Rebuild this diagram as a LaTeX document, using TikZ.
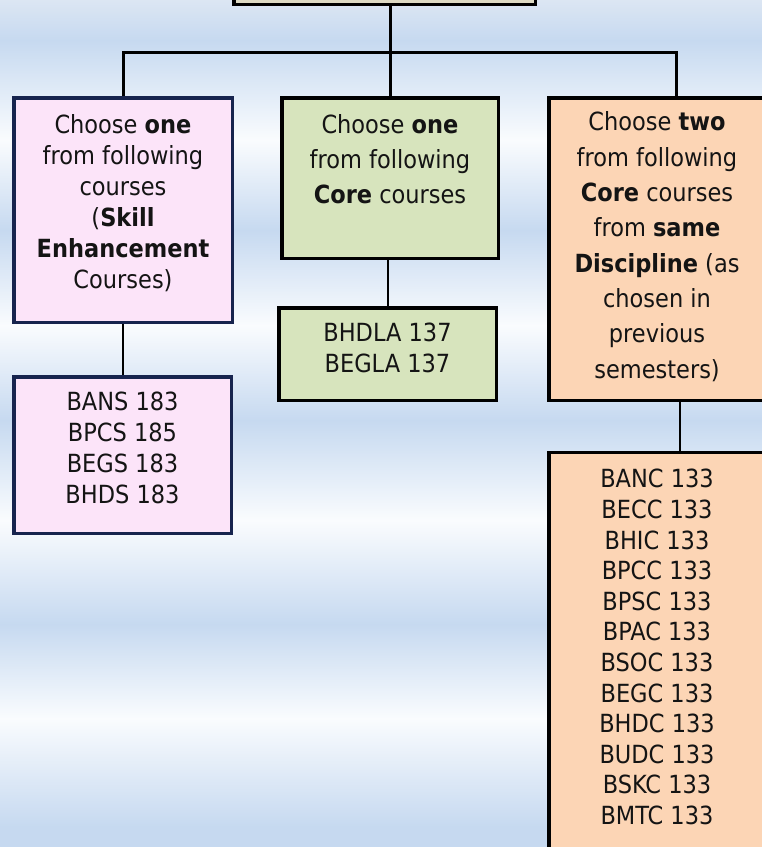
\documentclass[tikz,border=0pt]{standalone}
\usepackage{fontspec}
\setmainfont{DejaVu Sans Condensed}
\usepackage{xcolor}
\usepackage{tikz}
\usetikzlibrary{positioning, calc}
\definecolor{sem-pink}{HTML}{FCE4F9}
\definecolor{sem-navy}{HTML}{17244E}
\definecolor{sem-green}{HTML}{D7E4BD}
\definecolor{sem-peach}{HTML}{FCD5B5}
\definecolor{sem-tan}{HTML}{DDD9C3}
\definecolor{sem-ink}{HTML}{141414}
\definecolor{sky-blue}{HTML}{C6D9F0}
\definecolor{sky-white}{HTML}{FAFCFE}
\definecolor{sky-mid}{HTML}{DCE6F3}
\newcommand{\lowpad}[1]{\rule[-#1]{0pt}{#1}}

\begin{document}
\begin{tikzpicture}[x=1pt, y=-1pt,
    box/.style={draw, line width=3.5pt, align=center, inner sep=0pt, text=sem-ink},
    skill/.style={box, draw=sem-navy, fill=sem-pink},
    core/.style={box, fill=sem-green},
    disc/.style={box, fill=sem-peach},
    trunk/.style={line width=3pt, black},
    twig/.style={line width=2pt, black}]
    \useasboundingbox (0,0) rectangle (762,847);

    % Sky background bands
    \foreach \ya/\yb/\ca/\cb in {0/40/sky-mid/sky-blue, 40/140/sky-blue/sky-white,
        140/230/sky-white/sky-blue, 230/325/sky-blue/sky-white, 325/420/sky-white/sky-blue,
        420/520/sky-blue/sky-white, 520/624/sky-white/sky-blue, 624/718/sky-blue/sky-white,
        718/826/sky-white/sky-blue, 826/847/sky-blue/sky-blue} {
        \shade[top color=\ca, bottom color=\cb] (0,\ya) rectangle (762,\yb+1);
    }

    % Semester box (cut off at the top)
    \node[box, fill=sem-tan, minimum width=301.5pt, minimum height=60pt, anchor=south] (head) at (384.5,6.25) {};

    % First-level choices
    \node[skill, minimum width=218.5pt, minimum height=224.5pt, font=\fontsize{25}{31}\selectfont] (ske) at (123,210)
        {Choose \textbf{one}\\from following\\courses\\(\textbf{Skill}\\\textbf{Enhancement}\\Courses)\lowpad{17pt}};
    \node[core, minimum width=216.5pt, minimum height=160.5pt, font=\fontsize{25}{35}\selectfont] (core) at (390,178)
        {Choose \textbf{one}\\from following\\\textbf{Core} courses\lowpad{39pt}};
    \node[disc, minimum width=216.5pt, minimum height=302.5pt, font=\fontsize{25}{35.3}\selectfont] (dsc) at (657,249)
        {Choose \textbf{two}\\from following\\\textbf{Core} courses\\from \textbf{same}\\\textbf{Discipline} (as\\chosen in\\previous\\semesters)\lowpad{8pt}};

    % Course lists
    \node[skill, minimum width=217.5pt, minimum height=156.5pt, font=\fontsize{25}{31}\selectfont] (skelist) at (122.5,455)
        {BANS 183\\BPCS 185\\BEGS 183\\BHDS 183\lowpad{14pt}};
    \node[core, minimum width=217.5pt, minimum height=92.5pt, font=\fontsize{25}{31}\selectfont] (corelist) at (387.5,354)
        {BHDLA 137\\BEGLA 137\lowpad{13pt}};
    \node[disc, minimum width=216.5pt, anchor=north, inner ysep=16.8pt, font=\fontsize{25}{30.6}\selectfont] (dsclist) at (657,450.75)
        {BANC 133\\BECC 133\\BHIC 133\\BPCC 133\\BPSC 133\\BPAC 133\\BSOC 133\\BEGC 133\\BHDC 133\\BUDC 133\\BSKC 133\\BMTC 133\lowpad{40pt}};

    % Tree connectors
    \coordinate (split) at (390,52);
    \draw[trunk] (head.south -| core.north) -- (core.north);
    \draw[trunk] (ske.north) |- (split) -| ([xshift=19pt]dsc.north);
    \draw[twig] (ske.south) -- (ske.south |- skelist.north);
    \draw[twig] (corelist.north |- core.south) -- (corelist.north);
    \draw[twig] ([xshift=23pt]dsc.south) -- ([xshift=23pt]dsc.south |- dsclist.north);
\end{tikzpicture}
\end{document}
